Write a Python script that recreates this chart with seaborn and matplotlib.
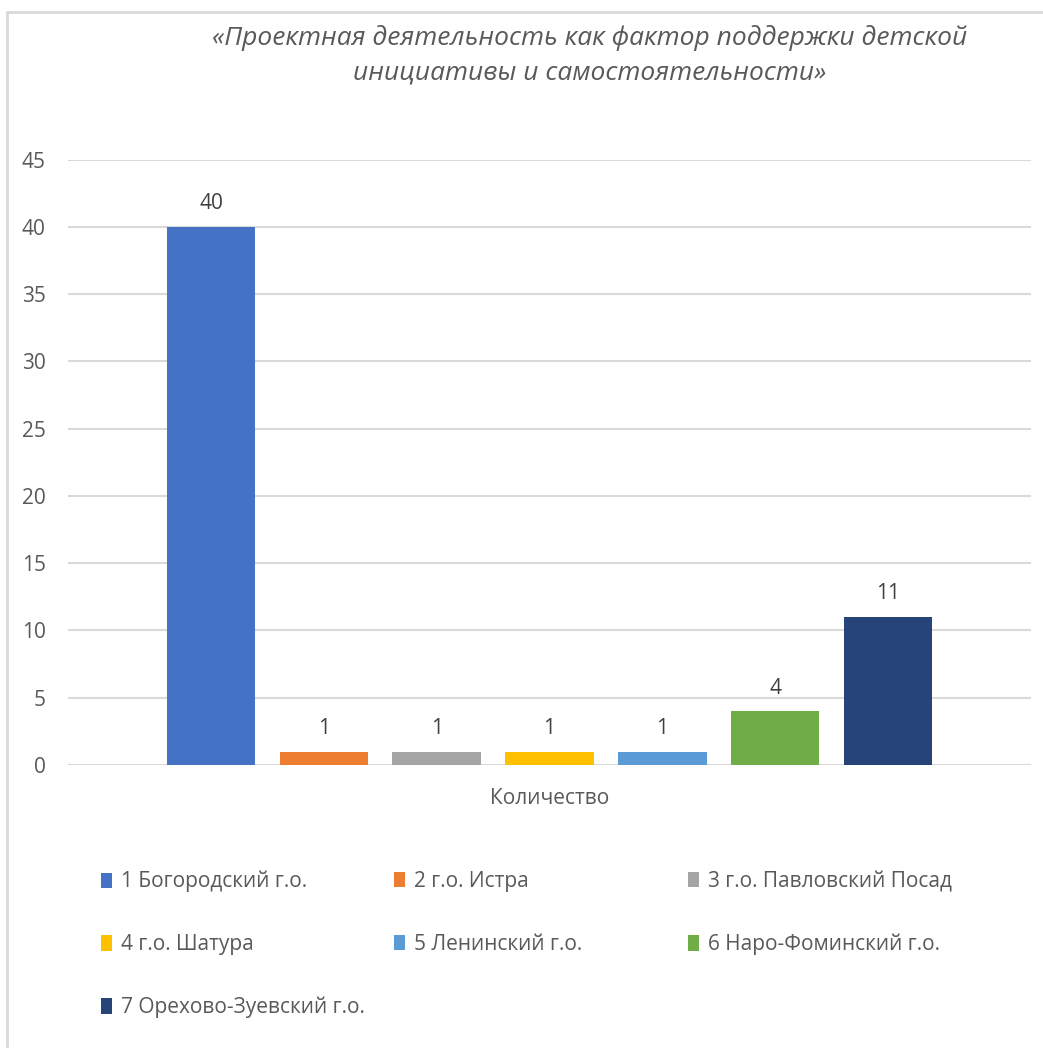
import matplotlib
matplotlib.use("Agg")
import matplotlib.pyplot as plt
import seaborn as sns
import pandas as pd
from matplotlib.lines import Line2D
from matplotlib.patches import Patch

title = "«Проектная деятельность как фактор поддержки детской\nинициативы и самостоятельности»"
category = "Количество"
districts = [
    "1 Богородский г.о.",
    "2 г.о. Истра",
    "3 г.о. Павловский Посад",
    "4 г.о. Шатура",
    "5 Ленинский г.о.",
    "6 Наро-Фоминский г.о.",
    "7 Орехово-Зуевский г.о.",
]
values = [40, 1, 1, 1, 1, 4, 11]
colors = ["#4472C4", "#ED7D31", "#A5A5A5", "#FFC000", "#5B9BD5", "#70AD47", "#264478"]
yticks = [0, 5, 10, 15, 20, 25, 30, 35, 40, 45]

sns.set_theme(style="white")
plt.rcParams["font.family"] = ["Open Sans", "DejaVu Sans"]

df = pd.DataFrame({"cat": [category] * len(districts), "district": districts, "value": values})

W, H = 1043, 1048
FS = 15
fig = plt.figure(figsize=(W / 100, H / 100), dpi=100)
fig.patch.set_facecolor("white")
ax = fig.add_axes([68 / W, 1 - 765 / H, (1031 - 68) / W, (765 - 159.5) / H])

sns.barplot(data=df, x="cat", y="value", hue="district", hue_order=districts,
            palette=colors, width=0.82, gap=0.215, legend=False, ax=ax,
            saturation=1, linewidth=0, zorder=3)

ax.set_ylim(0, 45)
ax.set_xlim(-0.5, 0.5)
ax.set_yticks(yticks)
ax.set_yticklabels([str(t) for t in yticks], fontsize=FS, color="#595959")
ax.tick_params(axis="y", length=0, pad=16)
ax.tick_params(axis="x", length=0)
ax.set_xticks([])
ax.set_ylabel("")
ax.set_xlabel("")
for s in ax.spines.values():
    s.set_visible(False)
ax.yaxis.grid(True, color="#d9d9d9", linewidth=1.5, zorder=0)
ax.set_axisbelow(True)

for c in ax.containers:
    ax.bar_label(c, fmt="%g", padding=9, fontsize=FS, color="#404040")

fig.text(550 / W, 1 - 798 / H, category, ha="center", va="center", fontsize=FS, color="#595959")

fig.text(590 / W, 1 - 55.5 / H, title, ha="center", va="center", fontsize=19,
         style="italic", color="#595959", linespacing=1.5)

# legend: three columns laid out row by row
col_x = [101, 394, 688]
for ci in range(3):
    idx = list(range(ci, len(districts), 3))
    handles = [Patch(facecolor=colors[i], edgecolor="none") for i in idx]
    labels = [districts[i] for i in idx]
    fig.legend(handles, labels, loc="upper left",
               bbox_to_anchor=(col_x[ci] / W, 1 - 871 / H),
               ncol=1, frameon=False, fontsize=FS, handlelength=0.55, handleheight=0.75,
               handletextpad=0.4, labelspacing=2.0, borderaxespad=0, borderpad=0,
               labelcolor="#595959")

# chart border (top and left)
fig.add_artist(Line2D([7 / W, 7 / W], [0, 1 - 12 / H], color="#d9d9d9", linewidth=2,
                      transform=fig.transFigure))
fig.add_artist(Line2D([7 / W, 1], [1 - 12 / H, 1 - 12 / H], color="#d9d9d9", linewidth=2,
                      transform=fig.transFigure))

fig.savefig("out.png", dpi=100)
